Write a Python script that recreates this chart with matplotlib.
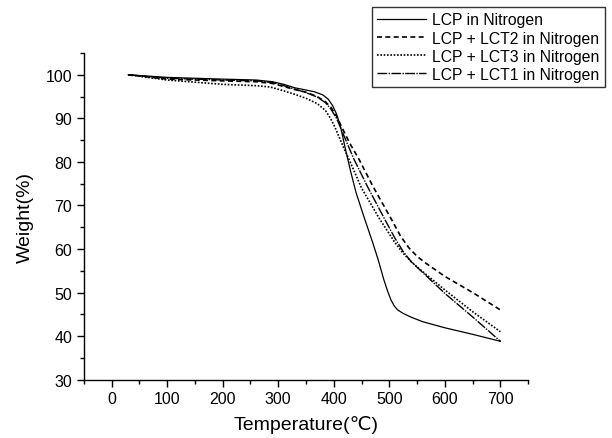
import numpy as np
import matplotlib
matplotlib.use("Agg")
import matplotlib.pyplot as plt
from matplotlib.ticker import MultipleLocator

plt.rcParams['font.family'] = ['Liberation Sans', 'DejaVu Sans']

# TGA curves (temperature in C, weight in %)
t_lcp = [30, 100, 200, 260, 290, 310, 330, 350, 365, 380, 390, 398, 405, 412, 420, 430, 440, 454, 470, 480,
         490, 497, 503, 509, 515, 525, 540, 560, 600, 650, 700]
w_lcp = [100, 99.4, 99.0, 98.8, 98.4, 97.8, 97.0, 96.5, 96.1, 95.4, 94.4, 92.9, 91.0, 88.2, 83.5, 78.0, 73.0, 67.5, 61.5, 57.5,
         53.0, 50.3, 48.3, 46.9, 46.0, 45.2, 44.3, 43.3, 41.9, 40.4, 38.8]

t_lct2 = [30, 100, 200, 260, 290, 310, 330, 350, 370, 385, 395, 405, 415, 430, 445, 470, 503, 520, 535, 550, 565, 600, 650, 700]
w_lct2 = [100, 99.0, 98.6, 98.4, 98.0, 97.3, 96.6, 96.0, 95.0, 93.8, 92.5, 90.5, 87.8, 84.0, 80.7, 74.5, 67, 63, 60.3, 58.3, 56.8, 53.7, 50.0, 46]

t_lct3 = [30, 100, 200, 260, 285, 305, 330, 350, 370, 385, 394, 402, 410, 418, 427, 450, 482, 510, 525, 540, 560, 600, 650, 700]
w_lct3 = [100, 98.8, 97.8, 97.5, 97.2, 96.5, 95.5, 94.6, 93.4, 91.8, 90.0, 88.0, 85.6, 83.2, 80.7, 74.0, 67, 61.5, 59.0, 57.0, 54.8, 50.6, 45.6, 41]

t_lct1 = [30, 100, 200, 260, 290, 310, 330, 350, 370, 385, 395, 405, 413, 420, 436, 460, 491, 510, 525, 540, 560, 600, 650, 700]
w_lct1 = [100, 99.2, 98.8, 98.6, 98.2, 97.5, 96.7, 95.9, 94.9, 93.6, 92.1, 90.0, 87.6, 85.5, 80.7, 74.5, 67, 62.5, 59.4, 57.0, 54.6, 49.8, 44.4, 38.8]

labels = ["LCP in Nitrogen", "LCP + LCT2 in Nitrogen",
          "LCP + LCT3 in Nitrogen", "LCP + LCT1 in Nitrogen"]

fig = plt.figure(figsize=(6.12, 4.39), dpi=100)
ax = fig.add_axes([0.137, 0.133, 0.726, 0.744])

l1, = ax.plot(t_lcp, w_lcp, color='black', lw=0.9, ls='-')
l2, = ax.plot(t_lct2, w_lct2, color='black', lw=1.2, ls=(0, (3, 2)))
l3, = ax.plot(t_lct3, w_lct3, color='black', lw=1.2, ls=(0, (1, 1)))
l4, = ax.plot(t_lct1, w_lct1, color='black', lw=1.0, ls=(0, (7, 1, 1, 1)))

ax.set_xlim(-50, 750)
ax.set_ylim(30, 105)
ax.xaxis.set_minor_locator(MultipleLocator(50))
ax.yaxis.set_minor_locator(MultipleLocator(5))
ax.set_xticks(np.arange(0, 701, 100))
ax.set_yticks(np.arange(30, 101, 10))

for s in ['top', 'right']:
    ax.spines[s].set_visible(False)
for s in ['left', 'bottom']:
    ax.spines[s].set_linewidth(1.0)

ax.tick_params(which='major', direction='out', length=5, width=1, labelsize=11.5)
ax.tick_params(which='minor', direction='out', length=3, width=1)

ax.set_xlabel("Temperature(\u2103)", fontsize=14, labelpad=6)
ax.set_ylabel("Weight(%)", fontsize=14, labelpad=8)

leg = fig.legend([l1, l2, l3, l4], labels, loc='upper right',
                 bbox_to_anchor=(0.989, 0.982), fontsize=11.3, frameon=True,
                 fancybox=False, handlelength=3.1, handletextpad=0.4,
                 borderpad=0.35, labelspacing=0.2, borderaxespad=0)
leg.get_frame().set_edgecolor('black')
leg.get_frame().set_linewidth(1.0)

fig.savefig("out.png", dpi=100)
